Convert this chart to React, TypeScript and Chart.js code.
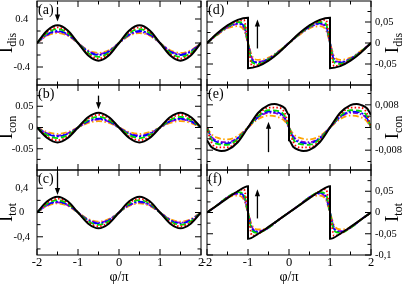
import React, { useEffect, useRef } from 'react';
import { Chart, registerables } from 'chart.js';

Chart.register(...registerables);

const FONT = '"Liberation Serif", "Times New Roman", serif';

// ---------- x grids ----------
const X_SMOOTH = [-2, -1.75, -1.5, -1.25, -1, -0.75, -0.5, -0.25, 0, 0.25, 0.5, 0.75, 1, 1.25, 1.5, 1.75, 2];
const X_ROUNDED_JUMP = [-2, -1.75, -1.5, -1.25, -1.1, -1, -0.9, -0.75, -0.5, -0.25, 0, 0.25, 0.5, 0.75, 0.9, 1, 1.1, 1.25, 1.5, 1.75, 2];
const X_SAW = [-2, -1.75, -1.5, -1.25, -1, -1, -0.75, -0.5, -0.25, 0, 0.25, 0.5, 0.75, 1, 1, 1.25, 1.5, 1.75, 2];
const X_E_SMOOTH = [-2, -1.9, -1.75, -1.5, -1.25, -1, -0.75, -0.5, -0.25, -0.1, 0, 0.1, 0.25, 0.5, 0.75, 1, 1.25, 1.5, 1.75, 1.9, 2];
const X_E_BLACK = [-2, -1.9, -1.75, -1.65, -1.5, -1.25, -1, -0.75, -0.5, -0.35, -0.25, -0.1, 0, 0, 0.1, 0.25, 0.35, 0.5, 0.75, 1, 1.25, 1.5, 1.65, 1.75, 1.9, 2];

// ---------- panel (a) I_dis ----------
const A_BLACK = [0, 0.209, 0.295, 0.209, 0, -0.209, -0.295, -0.209, 0, 0.209, 0.295, 0.209, 0, -0.209, -0.295, -0.209, 0];
const A_RED = [0, 0.184, 0.26, 0.184, 0, -0.184, -0.26, -0.184, 0, 0.184, 0.26, 0.184, 0, -0.184, -0.26, -0.184, 0];
const A_GREEN = [0, 0.165, 0.232, 0.165, 0, -0.165, -0.232, -0.165, 0, 0.165, 0.232, 0.165, 0, -0.165, -0.232, -0.165, 0];
const A_BLUE = [0, 0.144, 0.2, 0.144, 0, -0.144, -0.2, -0.144, 0, 0.144, 0.2, 0.144, 0, -0.144, -0.2, -0.144, 0];
const A_VIOLET = [0, 0.134, 0.185, 0.134, 0, -0.134, -0.185, -0.134, 0, 0.134, 0.185, 0.134, 0, -0.134, -0.185, -0.134, 0];
const A_ORANGE = [0, 0.121, 0.165, 0.121, 0, -0.121, -0.165, -0.121, 0, 0.121, 0.165, 0.121, 0, -0.121, -0.165, -0.121, 0];

// ---------- panel (b) I_con ----------
const B_BLACK = [0, -0.0247, -0.035, -0.0247, 0, 0.0247, 0.035, 0.0247, 0, -0.0247, -0.035, -0.0247, 0, 0.0247, 0.035, 0.0247, 0];
const B_RED = [0, -0.0213, -0.03, -0.0213, 0, 0.0213, 0.03, 0.0213, 0, -0.0213, -0.03, -0.0213, 0, 0.0213, 0.03, 0.0213, 0];
const B_GREEN = [0, -0.0178, -0.025, -0.0178, 0, 0.0178, 0.025, 0.0178, 0, -0.0178, -0.025, -0.0178, 0, 0.0178, 0.025, 0.0178, 0];
const B_BLUE = [0, -0.015, -0.021, -0.015, 0, 0.015, 0.021, 0.015, 0, -0.015, -0.021, -0.015, 0, 0.015, 0.021, 0.015, 0];
const B_VIOLET = [0, -0.0136, -0.019, -0.0136, 0, 0.0136, 0.019, 0.0136, 0, -0.0136, -0.019, -0.0136, 0, 0.0136, 0.019, 0.0136, 0];
const B_ORANGE = [0, -0.0108, -0.015, -0.0108, 0, 0.0108, 0.015, 0.0108, 0, -0.0108, -0.015, -0.0108, 0, 0.0108, 0.015, 0.0108, 0];

// ---------- panel (c) I_tot ----------
const C_BLACK = [0, 0.184, 0.26, 0.184, 0, -0.184, -0.26, -0.184, 0, 0.184, 0.26, 0.184, 0, -0.184, -0.26, -0.184, 0];
const C_RED = [0, 0.162, 0.228, 0.162, 0, -0.162, -0.228, -0.162, 0, 0.162, 0.228, 0.162, 0, -0.162, -0.228, -0.162, 0];
const C_GREEN = [0, 0.146, 0.205, 0.146, 0, -0.146, -0.205, -0.146, 0, 0.146, 0.205, 0.146, 0, -0.146, -0.205, -0.146, 0];
const C_BLUE = [0, 0.129, 0.18, 0.129, 0, -0.129, -0.18, -0.129, 0, 0.129, 0.18, 0.129, 0, -0.129, -0.18, -0.129, 0];
const C_VIOLET = [0, 0.12, 0.167, 0.12, 0, -0.12, -0.167, -0.12, 0, 0.12, 0.167, 0.12, 0, -0.12, -0.167, -0.12, 0];
const C_ORANGE = [0, 0.108, 0.15, 0.108, 0, -0.108, -0.15, -0.108, 0, 0.108, 0.15, 0.108, 0, -0.108, -0.15, -0.108, 0];

// ---------- panel (d) I_dis ----------
const D_BLACK = [0, 0.023, 0.042, 0.055, 0.06, -0.06, -0.055, -0.042, -0.023, 0, 0.023, 0.042, 0.055, 0.06, -0.06, -0.055, -0.042, -0.023, 0];
const D_RED = [0, 0.022, 0.041, 0.052, 0.055, 0, -0.055, -0.052, -0.041, -0.022, 0, 0.022, 0.041, 0.052, 0.055, 0, -0.055, -0.052, -0.041, -0.022, 0];
const D_GREEN = [0, 0.021, 0.039, 0.05, 0.046, 0, -0.046, -0.05, -0.039, -0.021, 0, 0.021, 0.039, 0.05, 0.046, 0, -0.046, -0.05, -0.039, -0.021, 0];
const D_BLUE = [0, 0.021, 0.038, 0.047, 0.041, 0, -0.041, -0.047, -0.038, -0.021, 0, 0.021, 0.038, 0.047, 0.041, 0, -0.041, -0.047, -0.038, -0.021, 0];
const D_VIOLET = [0, 0.02, 0.037, 0.045, 0.037, 0, -0.037, -0.045, -0.037, -0.02, 0, 0.02, 0.037, 0.045, 0.037, 0, -0.037, -0.045, -0.037, -0.02, 0];
const D_ORANGE = [0, 0.019, 0.035, 0.04, 0.031, 0, -0.031, -0.04, -0.035, -0.019, 0, 0.019, 0.035, 0.04, 0.031, 0, -0.031, -0.04, -0.035, -0.019, 0];

// ---------- panel (e) I_con ----------
const E_BLACK = [-0.0045, -0.0068, -0.008, -0.0083, -0.0079, -0.0052, 0, 0.0052, 0.0079, 0.0083, 0.008, 0.0068, 0.0045,
  -0.0045, -0.0068, -0.008, -0.0083, -0.0079, -0.0052, 0, 0.0052, 0.0079, 0.0083, 0.008, 0.0068, 0.0045];
const E_RED = [0, -0.005, -0.007, -0.007, -0.0046, 0, 0.0046, 0.007, 0.007, 0.005, 0, -0.005, -0.007, -0.007, -0.0046, 0, 0.0046, 0.007, 0.007, 0.005, 0];
const E_GREEN = [0, -0.004, -0.0058, -0.0061, -0.0041, 0, 0.0041, 0.0061, 0.0058, 0.004, 0, -0.004, -0.0058, -0.0061, -0.0041, 0, 0.0041, 0.0061, 0.0058, 0.004, 0];
const E_BLUE = [0, -0.0034, -0.0052, -0.0056, -0.0038, 0, 0.0038, 0.0056, 0.0052, 0.0034, 0, -0.0034, -0.0052, -0.0056, -0.0038, 0, 0.0038, 0.0056, 0.0052, 0.0034, 0];
const E_VIOLET = [0, -0.003, -0.0047, -0.0052, -0.0036, 0, 0.0036, 0.0052, 0.0047, 0.003, 0, -0.003, -0.0047, -0.0052, -0.0036, 0, 0.0036, 0.0052, 0.0047, 0.003, 0];
const E_ORANGE = [0, -0.0022, -0.0036, -0.0042, -0.003, 0, 0.003, 0.0042, 0.0036, 0.0022, 0, -0.0022, -0.0036, -0.0042, -0.003, 0, 0.003, 0.0042, 0.0036, 0.0022, 0];

// ---------- panel (f) I_tot ----------
const F_BLACK = [0, 0.017, 0.034, 0.05, 0.062, -0.062, -0.05, -0.034, -0.017, 0, 0.017, 0.034, 0.05, 0.062, -0.062, -0.05, -0.034, -0.017, 0];
const F_RED = [0, 0.017, 0.035, 0.05, 0.055, 0, -0.055, -0.05, -0.035, -0.017, 0, 0.017, 0.035, 0.05, 0.055, 0, -0.055, -0.05, -0.035, -0.017, 0];
const F_GREEN = [0, 0.017, 0.036, 0.048, 0.043, 0, -0.043, -0.048, -0.036, -0.017, 0, 0.017, 0.036, 0.048, 0.043, 0, -0.043, -0.048, -0.036, -0.017, 0];
const F_BLUE = [0, 0.017, 0.036, 0.046, 0.039, 0, -0.039, -0.046, -0.036, -0.017, 0, 0.017, 0.036, 0.046, 0.039, 0, -0.039, -0.046, -0.036, -0.017, 0];
const F_VIOLET = [0, 0.017, 0.036, 0.044, 0.035, 0, -0.035, -0.044, -0.036, -0.017, 0, 0.017, 0.036, 0.044, 0.035, 0, -0.035, -0.044, -0.036, -0.017, 0];
const F_ORANGE = [0, 0.017, 0.035, 0.04, 0.03, 0, -0.03, -0.04, -0.035, -0.017, 0, 0.017, 0.035, 0.04, 0.03, 0, -0.03, -0.04, -0.035, -0.017, 0];

// ---------- ticks ----------
const X_MAJOR = [-2, -1, 0, 1, 2];
const X_MINOR = [-1.5, -0.5, 0.5, 1.5];
const X_LABELS = ['-2', '-1', '0', '1', '2'];

const A_Y_TICKS = [-0.4, 0, 0.4];
const A_Y_LABELS = ['-0.4', '0', '0.4'];
const A_Y_MINOR = [-0.6, -0.2, 0.2, 0.6];
const B_Y_TICKS = [-0.05, 0, 0.05];
const B_Y_LABELS = ['-0.05', '0', '0.05'];
const B_Y_MINOR = [-0.075, -0.025, 0.025, 0.075];
const C_Y_TICKS = [-0.4, 0, 0.4];
const C_Y_LABELS = ['-0,4', '0', '0,4'];
const C_Y_MINOR = [-0.6, -0.2, 0.2, 0.6];
const D_Y_TICKS = [-0.05, 0, 0.05];
const D_Y_LABELS = ['-0,05', '0', '0,05'];
const D_Y_MINOR = [-0.075, -0.025, 0.025, 0.075];
const E_Y_TICKS = [-0.008, 0, 0.008];
const E_Y_LABELS = ['-0,008', '0', '0,008'];
const E_Y_MINOR = [-0.012, -0.004, 0.004, 0.012];
const F_Y_TICKS = [-0.1, -0.05, 0, 0.05];
const F_Y_LABELS = ['-0,1', '-0,05', '0', '0,05'];
const F_Y_MINOR = [-0.075, -0.025, 0.025, 0.075];

// arrows: x, from y, to y (tip)
const ARROW_X = [-1.5, -0.5, -1.5, -0.77, -0.5, -0.77];
const ARROW_FROM = [0.6, 0.075, 0.66, -0.013, -0.0087, -0.014];
const ARROW_TO = [0.36, 0.043, 0.29, 0.056, 0.002, 0.055];

const SERIES_COLORS = ['#000000', '#ff0000', '#00dd00', '#0000ff', '#9400d3', '#ffa500'];
const SERIES_DASH = [[], [1.5, 2.2], [6, 3], [7, 2, 2, 2], [5, 2, 1.5, 2], [6, 2.5, 1.5, 2.5]];
const SERIES_WIDTH = [2, 1.8, 1.8, 1.8, 1.8, 1.8];

const W = 409;
const H = 285;
const COLS = [{ left: 37, right: 201 }, { left: 207, right: 371 }];
const ROWS = [{ top: 1, bottom: 85 }, { top: 85, bottom: 170 }, { top: 170, bottom: 255 }];

type Panel = {
  letter: string; sub: string; col: number; row: number;
  yMin: number; yMax: number; yTicks: number[]; yLabels: string[]; yMinor: number[];
  xs: number[][]; ys: number[][]; align: 'center' | 'near'; pad: number; arrow: number;
};

const PANELS: Panel[] = [
  { letter: '(a)', sub: 'dis', col: 0, row: 0, yMin: -0.7, yMax: 0.7, yTicks: A_Y_TICKS, yLabels: A_Y_LABELS, yMinor: A_Y_MINOR,
    xs: [X_SMOOTH, X_SMOOTH, X_SMOOTH, X_SMOOTH, X_SMOOTH, X_SMOOTH], ys: [A_BLACK, A_RED, A_GREEN, A_BLUE, A_VIOLET, A_ORANGE], align: 'center', pad: 7, arrow: 0 },
  { letter: '(b)', sub: 'con', col: 0, row: 1, yMin: -0.1, yMax: 0.1, yTicks: B_Y_TICKS, yLabels: B_Y_LABELS, yMinor: B_Y_MINOR,
    xs: [X_SMOOTH, X_SMOOTH, X_SMOOTH, X_SMOOTH, X_SMOOTH, X_SMOOTH], ys: [B_BLACK, B_RED, B_GREEN, B_BLUE, B_VIOLET, B_ORANGE], align: 'near', pad: 3.5, arrow: 1 },
  { letter: '(c)', sub: 'tot', col: 0, row: 2, yMin: -0.7, yMax: 0.7, yTicks: C_Y_TICKS, yLabels: C_Y_LABELS, yMinor: C_Y_MINOR,
    xs: [X_SMOOTH, X_SMOOTH, X_SMOOTH, X_SMOOTH, X_SMOOTH, X_SMOOTH], ys: [C_BLACK, C_RED, C_GREEN, C_BLUE, C_VIOLET, C_ORANGE], align: 'center', pad: 7, arrow: 2 },
  { letter: '(d)', sub: 'dis', col: 1, row: 0, yMin: -0.1, yMax: 0.1, yTicks: D_Y_TICKS, yLabels: D_Y_LABELS, yMinor: D_Y_MINOR,
    xs: [X_SAW, X_ROUNDED_JUMP, X_ROUNDED_JUMP, X_ROUNDED_JUMP, X_ROUNDED_JUMP, X_ROUNDED_JUMP], ys: [D_BLACK, D_RED, D_GREEN, D_BLUE, D_VIOLET, D_ORANGE], align: 'near', pad: 4, arrow: 3 },
  { letter: '(e)', sub: 'con', col: 1, row: 1, yMin: -0.015, yMax: 0.015, yTicks: E_Y_TICKS, yLabels: E_Y_LABELS, yMinor: E_Y_MINOR,
    xs: [X_E_BLACK, X_E_SMOOTH, X_E_SMOOTH, X_E_SMOOTH, X_E_SMOOTH, X_E_SMOOTH], ys: [E_BLACK, E_RED, E_GREEN, E_BLUE, E_VIOLET, E_ORANGE], align: 'near', pad: 4, arrow: 4 },
  { letter: '(f)', sub: 'tot', col: 1, row: 2, yMin: -0.1, yMax: 0.1, yTicks: F_Y_TICKS, yLabels: F_Y_LABELS, yMinor: F_Y_MINOR,
    xs: [X_SAW, X_ROUNDED_JUMP, X_ROUNDED_JUMP, X_ROUNDED_JUMP, X_ROUNDED_JUMP, X_ROUNDED_JUMP], ys: [F_BLACK, F_RED, F_GREEN, F_BLUE, F_VIOLET, F_ORANGE], align: 'near', pad: 4, arrow: 5 },
];

function makeFramePlugin(p: Panel) {
  return {
    id: 'frame' + p.letter,
    afterDraw(chart: any) {
      const { ctx, chartArea: a, scales } = chart;
      const xs = scales.x;
      const ys = scales.y;
      ctx.save();
      ctx.strokeStyle = '#000';
      ctx.fillStyle = '#000';
      ctx.lineWidth = 1;
      ctx.strokeRect(a.left, a.top, a.right - a.left, a.bottom - a.top);
      const line = (x1: number, y1: number, x2: number, y2: number) => {
        ctx.beginPath(); ctx.moveTo(x1, y1); ctx.lineTo(x2, y2); ctx.stroke();
      };
      const MAJ = 6, MIN = 3.5;
      X_MAJOR.forEach((v) => { const px = xs.getPixelForValue(v); line(px, a.bottom, px, a.bottom - MAJ); line(px, a.top, px, a.top + MAJ); });
      X_MINOR.forEach((v) => { const px = xs.getPixelForValue(v); line(px, a.bottom, px, a.bottom - MIN); line(px, a.top, px, a.top + MIN); });
      p.yTicks.forEach((v) => { const py = ys.getPixelForValue(v); line(a.left, py, a.left + MAJ, py); line(a.right, py, a.right - MAJ, py); });
      p.yMinor.forEach((v) => { const py = ys.getPixelForValue(v); line(a.left, py, a.left + MIN, py); line(a.right, py, a.right - MIN, py); });

      // arrow
      const ax = xs.getPixelForValue(ARROW_X[p.arrow]);
      const y0 = ys.getPixelForValue(ARROW_FROM[p.arrow]);
      const y1 = ys.getPixelForValue(ARROW_TO[p.arrow]);
      const dir = y1 > y0 ? 1 : -1;
      ctx.lineWidth = 1.3;
      line(ax, y0, ax, y1 - dir * 5);
      ctx.beginPath();
      ctx.moveTo(ax, y1);
      ctx.lineTo(ax - 2.6, y1 - dir * 7);
      ctx.lineTo(ax + 2.6, y1 - dir * 7);
      ctx.closePath();
      ctx.fill();

      // panel letter
      ctx.font = `14px ${FONT}`;
      ctx.textAlign = 'left';
      ctx.textBaseline = 'middle';
      ctx.fillText(p.letter, a.left + 1, a.top + 9);

      // y title, rotated
      const cy = (a.top + a.bottom) / 2;
      const cx = p.col === 0 ? 12 : 398;
      ctx.save();
      ctx.translate(cx, cy);
      ctx.rotate(-Math.PI / 2);
      ctx.font = `19px ${FONT}`;
      const wI = ctx.measureText('I').width;
      ctx.font = `12px ${FONT}`;
      const wS = ctx.measureText(p.sub).width;
      const x0 = -(wI + wS) / 2;
      ctx.textBaseline = 'alphabetic';
      ctx.textAlign = 'left';
      ctx.font = `19px ${FONT}`;
      ctx.fillText('I', x0, 0);
      ctx.font = `12px ${FONT}`;
      ctx.fillText(p.sub, x0 + wI, 3.5);
      ctx.restore();

      // x title on bottom row
      if (p.row === 2) {
        ctx.font = `14px ${FONT}`;
        ctx.textAlign = 'center';
        ctx.textBaseline = 'middle';
        ctx.fillText('φ/π', (a.left + a.right) / 2, 277);
      }
      ctx.restore();
    },
  };
}

function buildConfig(p: Panel): any {
  const col = COLS[p.col];
  const row = ROWS[p.row];
  const isBottom = p.row === 2;
  const datasets = p.ys.map((vals, i) => ({
    data: vals.map((y, j) => ({ x: p.xs[i][j], y })),
    borderColor: SERIES_COLORS[i],
    borderWidth: SERIES_WIDTH[i],
    borderDash: SERIES_DASH[i],
    pointRadius: 0,
    fill: false,
    cubicInterpolationMode: 'monotone',
  }));
  return {
    type: 'line',
    data: { datasets },
    options: {
      responsive: false,
      animation: false,
      events: [],
      layout: {
        autoPadding: false,
        padding: {
          left: p.col === 0 ? 0 : col.left,
          right: p.col === 0 ? W - col.right : 0,
          top: row.top,
          bottom: isBottom ? 0 : H - row.bottom,
        },
      },
      plugins: { legend: { display: false }, tooltip: { enabled: false } },
      scales: {
        x: {
          type: 'linear', min: -2, max: 2, display: isBottom,
          grid: { display: false, drawTicks: false }, border: { display: false },
          ticks: { font: { family: FONT, size: 12.5 }, color: '#000', padding: 0, maxRotation: 0, autoSkip: false,
            callback: (_v: any, i: number) => X_LABELS[i] },
          afterBuildTicks: (s: any) => { s.ticks = X_MAJOR.map((v) => ({ value: v })); },
          afterFit: (s: any) => { s.height = isBottom ? H - row.bottom : 0; s.paddingLeft = 0; s.paddingRight = 0; },
        },
        y: {
          type: 'linear', position: p.col === 0 ? 'left' : 'right', min: p.yMin, max: p.yMax,
          grid: { display: false, drawTicks: false }, border: { display: false },
          ticks: { font: { family: FONT, size: 10.5 }, color: '#000', padding: p.pad, crossAlign: p.align, autoSkip: false,
            callback: (_v: any, i: number) => p.yLabels[i] },
          afterBuildTicks: (s: any) => { s.ticks = p.yTicks.map((v) => ({ value: v })); },
          afterFit: (s: any) => { s.width = p.col === 0 ? col.left : W - col.right; s.paddingTop = 0; s.paddingBottom = 0; },
        },
      },
    },
    plugins: [makeFramePlugin(p)],
  };
}

function PanelCanvas({ p }: { p: Panel }) {
  const ref = useRef<HTMLCanvasElement | null>(null);
  useEffect(() => {
    if (!ref.current) return;
    const chart = new Chart(ref.current, buildConfig(p));
    return () => chart.destroy();
  }, [p]);
  return <canvas ref={ref} width={W} height={H} style={{ position: 'absolute', left: 0, top: 0, width: W, height: H }} />;
}

export default function App() {
  return (
    <div style={{ position: 'absolute', left: 0, top: 0, width: W, height: H, background: '#fff' }}>
      {PANELS.map((p) => <PanelCanvas key={p.letter} p={p} />)}
    </div>
  );
}
